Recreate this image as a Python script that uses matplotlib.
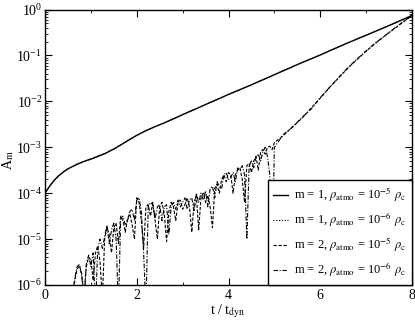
import numpy as np
import matplotlib
matplotlib.use("Agg")
import matplotlib.pyplot as plt
from matplotlib.ticker import LogLocator, FixedLocator

plt.rcParams['font.family'] = ['Liberation Serif', 'DejaVu Serif']
plt.rcParams['mathtext.fontset'] = 'stix'

# ---- data (log10 of A_m) ----
t_m1 = [0.0, 0.1, 0.2, 0.3, 0.4, 0.5, 0.6, 0.7, 0.8, 0.9, 1.0, 1.1, 1.2, 1.3, 1.4,
        1.5, 1.6, 1.7, 1.8, 1.9, 2.0, 2.2, 2.4, 2.6, 2.8, 3.0, 3.5, 4.0, 4.5, 5.0,
        5.5, 6.0, 6.5, 7.0, 7.5, 8.0]
log_m1_rho5 = [-4.0, -3.85, -3.72, -3.62, -3.54, -3.47, -3.42, -3.37, -3.33, -3.29,
               -3.26, -3.22, -3.18, -3.14, -3.09, -3.04, -2.98, -2.92, -2.86, -2.8,
               -2.74, -2.64, -2.55, -2.47, -2.38, -2.29, -2.07, -1.85, -1.64, -1.42,
               -1.2, -0.99, -0.77, -0.56, -0.35, -0.13]
log_m1_rho6 = [-4.0, -3.85, -3.72, -3.62, -3.54, -3.47, -3.42, -3.37, -3.32, -3.29,
               -3.25, -3.22, -3.17, -3.14, -3.08, -3.04, -2.98, -2.92, -2.85, -2.8,
               -2.74, -2.64, -2.55, -2.47, -2.38, -2.29, -2.07, -1.85, -1.64, -1.42,
               -1.2, -0.99, -0.77, -0.56, -0.35, -0.13]

t_m2 = [0.60, 0.65, 0.70, 0.75, 0.80, 0.85, 0.90, 0.95, 1.00, 1.05, 1.10, 1.15,
        1.20, 1.25, 1.30, 1.35, 1.40, 1.45, 1.50, 1.55, 1.60, 1.65, 1.70, 1.75,
        1.80, 1.85, 1.90, 1.95, 2.00, 2.05, 2.10, 2.15, 2.20, 2.25, 2.30, 2.35,
        2.40, 2.45, 2.50, 2.55, 2.60, 2.65, 2.70, 2.75, 2.80, 2.85, 2.90, 2.95,
        3.00, 3.05, 3.10, 3.15, 3.20, 3.25, 3.30, 3.35, 3.40, 3.45, 3.50, 3.55,
        3.60, 3.65, 3.70, 3.75, 3.80, 3.85, 3.90, 3.95, 4.00, 4.05, 4.10, 4.15,
        4.20, 4.25, 4.30, 4.35, 4.40, 4.45, 4.50, 4.55, 4.60, 4.65, 4.70, 4.75,
        4.80, 4.85, 4.90, 4.95, 5.00, 5.2, 5.4, 5.6, 5.8, 6.0, 6.2, 6.4, 6.6,
        6.8, 7.0, 7.2, 7.4, 7.6, 7.8, 8.0]
log_m2_rho5 = [-6.3, -5.9, -5.65, -5.58, -5.75, -6.2, -5.6, -5.4, -5.45, -5.9, -5.3, -5.15,
               -5.5, -6.3, -5.0, -4.75, -4.9, -5.3, -4.75, -4.65, -5.1, -4.5, -4.6, -4.85,
               -4.55, -4.45, -4.7, -5.0, -4.1, -4.2, -4.6, -5.2, -4.3, -4.25, -4.5, -4.2,
               -4.6, -5.0, -4.3, -4.2, -4.45, -5.05, -4.4, -4.2, -4.3, -4.6, -4.2, -4.15,
               -4.35, -4.25, -4.1, -4.3, -4.85, -4.2, -4.05, -4.8, -4.1, -4.0, -4.2, -4.05,
               -4.3, -4.75, -3.9, -3.8, -4.0, -3.7, -3.6, -3.75, -3.55, -3.6, -4.0, -3.6,
               -3.5, -3.45, -3.7, -4.2, -3.4, -3.35, -3.55, -3.3, -3.2, -3.5, -3.1, -3.05,
               -3.15, -3.0, -2.98, -3.05, -2.9, -2.74, -2.55, -2.37, -2.15, -1.93, -1.7,
               -1.49, -1.28, -1.09, -0.91, -0.74, -0.58, -0.43, -0.28, -0.13]
log_m2_rho6 = [-6.2, -5.85, -5.6, -5.55, -5.8, -6.4, -5.55, -5.35, -5.6, -5.3, -6.5, -5.2,
               -5.0, -5.2, -4.95, -4.7, -5.1, -4.8, -4.65, -5.0, -6.5, -4.55, -4.5, -4.7,
               -4.6, -4.4, -4.35, -4.6, -4.15, -4.1, -4.4, -5.3, -6.5, -4.3, -4.2, -4.25,
               -4.55, -4.3, -4.25, -4.6, -4.3, -4.25, -4.9, -4.3, -4.2, -4.35, -4.15, -4.3,
               -4.2, -4.1, -4.35, -4.15, -4.1, -4.4, -4.0, -4.2, -4.0, -4.15, -3.95, -4.3,
               -3.9, -3.85, -4.1, -3.75, -3.85, -3.9, -3.6, -3.55, -3.7, -3.65, -3.55, -3.75,
               -3.45, -3.5, -3.4, -3.6, -5.0, -3.4, -3.3, -3.45, -3.2, -3.15, -3.3, -3.1,
               -3.0, -3.2, -3.6, -5.6, -3.0, -2.72, -2.56, -2.35, -2.17, -1.92, -1.7,
               -1.48, -1.27, -1.08, -0.9, -0.73, -0.58, -0.42, -0.27, -0.13]

labels = [r'm = 1, $\rho_{\rm atmo}$ = 10$^{-5}$ $\rho_{\rm c}$',
          r'm = 1, $\rho_{\rm atmo}$ = 10$^{-6}$ $\rho_{\rm c}$',
          r'm = 2, $\rho_{\rm atmo}$ = 10$^{-5}$ $\rho_{\rm c}$',
          r'm = 2, $\rho_{\rm atmo}$ = 10$^{-6}$ $\rho_{\rm c}$']

W, H = 415, 321
fig = plt.figure(figsize=(W/100, H/100), dpi=100)
ax = fig.add_axes([45/W, 1-285/H, (412-45)/W, (285-9.5)/H])

ax.plot(t_m1, 10**np.array(log_m1_rho5), color='black', lw=1.0, ls='-', label=labels[0])
ax.plot(t_m1, 10**np.array(log_m1_rho6), color='black', lw=0.8, ls=(0, (1, 1.5)), label=labels[1])
ax.plot(t_m2, 10**np.array(log_m2_rho5), color='black', lw=0.8, ls=(0, (3, 1.5)), label=labels[2])
ax.plot(t_m2, 10**np.array(log_m2_rho6), color='black', lw=0.8, ls=(0, (4, 1.5, 1, 1.5)), label=labels[3])

ax.set_yscale('log')
ax.set_xlim(0, 8)
ax.set_ylim(1e-6, 1)
ax.set_xticks([0, 2, 4, 6, 8])
ax.xaxis.set_minor_locator(FixedLocator([1, 3, 5, 7]))
ax.set_yticks([1e-6, 1e-5, 1e-4, 1e-3, 1e-2, 1e-1, 1e0])
ax.yaxis.set_minor_locator(LogLocator(base=10, subs=np.arange(2, 10), numticks=20))
ax.tick_params(which='both', direction='in', top=True, right=True, labelsize=10)
ax.tick_params(axis='y', pad=2)
ax.tick_params(axis='x', pad=3)
ax.tick_params(which='major', length=5, width=0.8)
ax.tick_params(which='minor', length=2.5, width=0.6)
for s in ax.spines.values():
    s.set_linewidth(1.0)

fig.text(228/W, 1-311/H, r't / t$_{\rm dyn}$', fontsize=10, ha='center', va='center')
fig.text(8/W, 1-160/H, r'A$_{\rm m}$', fontsize=10, ha='center', va='center', rotation=90)

leg = ax.legend(loc='lower right', fontsize=9, frameon=True, fancybox=False,
                edgecolor='black', framealpha=1, borderaxespad=0, handlelength=1.2,
                labelspacing=0.5, handletextpad=0.5, borderpad=0.45)
leg.get_frame().set_linewidth(1.0)

fig.savefig('out.png', dpi=100)
